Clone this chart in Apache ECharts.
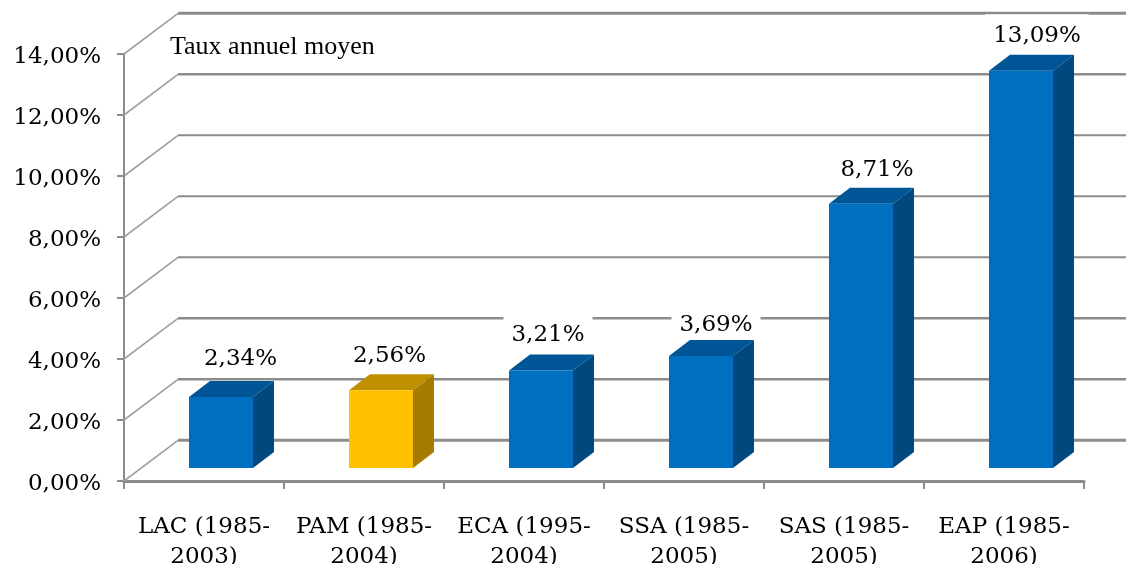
<!DOCTYPE html>
<html>
<head>
<meta charset="utf-8">
<title>Taux annuel moyen</title>
<script src="https://cdn.jsdelivr.net/npm/echarts@6/dist/echarts.min.js"></script>
<style>
  html, body { margin: 0; padding: 0; background: #fff; overflow: hidden; }
  #chart { width: 1126px; height: 564px; }
</style>
</head>
<body>
<div id="chart"></div>
<script>
const categories = ['LAC (1985-\n2003)', 'PAM (1985-\n2004)', 'ECA (1995-\n2004)', 'SSA (1985-\n2005)', 'SAS (1985-\n2005)', 'EAP (1985-\n2006)'];
const values = [2.34, 2.56, 3.21, 3.69, 8.71, 13.09];
const valueLabels = ['2,34%', '2,56%', '3,21%', '3,69%', '8,71%', '13,09%'];
const yTicks = [0, 2, 4, 6, 8, 10, 12, 14];
const highlightIndex = 1;

// fausse 3D : decalage du mur du fond et du bloc
const wallDx = 54, wallDy = -40.7;
const barFrontDx = 17, barFrontDy = -13;
const barDepthDx = 21, barDepthDy = -16;
const barWidth = 64;
const barScale = 0.995;

// etiquettes placees a la main dans l'original
const labelNudgeX = [36.5, 25.5, 24, 32, 33, 33];
const labelNudgeY = [-40, -36, -37.5, -33, -35.5, -36.5];

const serifFont = 'DejaVu Serif';
const gridColor = '#8c8c8c';

const chart = echarts.init(document.getElementById('chart'));

function wallLineWidth (v) {
  if (v === 14 || v === 0) return 3;
  if (v === 12 || v === 4 || v === 2) return 2.5;
  return 2;
}

function renderWall (params, api) {
  const v = api.value(0);
  const a = api.coord([0, v]);
  const left = params.coordSys.x;
  const right = left + params.coordSys.width;
  const y = a[1];
  return {
    type: 'group',
    children: [
      { type: 'line', shape: { x1: left, y1: y, x2: left + wallDx, y2: y + wallDy }, style: { stroke: '#a0a0a0', lineWidth: 1.6 } },
      { type: 'line', shape: { x1: left + wallDx, y1: y + wallDy, x2: right + wallDx, y2: y + wallDy }, style: { stroke: gridColor, lineWidth: wallLineWidth(v) } }
    ]
  };
}

function barTopY (api, idx, v) {
  const base = api.coord([idx, 0])[1];
  const top = api.coord([idx, v])[1];
  return base - (base - top) * barScale + barFrontDy;
}

function renderBar (params, api) {
  const idx = api.value(0);
  const top = api.coord([idx, api.value(1)]);
  const base = api.coord([idx, 0]);
  const x0 = top[0] + barFrontDx - barWidth / 2;
  const x1 = x0 + barWidth;
  const yTop = barTopY(api, idx, api.value(1));
  const yBase = base[1] + barFrontDy;
  const high = idx === highlightIndex;
  const front = high ? '#ffc000' : '#006fc0';
  const topFace = high ? '#bf9000' : '#005596';
  const sideFace = high ? '#a67c00' : '#00487e';
  return {
    type: 'group',
    children: [
      { type: 'polygon', shape: { points: [[x0, yTop], [x1, yTop], [x1 + barDepthDx, yTop + barDepthDy], [x0 + barDepthDx, yTop + barDepthDy]] }, style: { fill: topFace } },
      { type: 'polygon', shape: { points: [[x1, yTop], [x1 + barDepthDx, yTop + barDepthDy], [x1 + barDepthDx, yBase + barDepthDy], [x1, yBase]] }, style: { fill: sideFace } },
      { type: 'rect', shape: { x: x0, y: yTop, width: barWidth, height: yBase - yTop }, style: { fill: front } }
    ]
  };
}

// fond blanc qui coupe les lignes du mur, mais passe sous les barres
function renderLabel (params, api) {
  const idx = api.value(0);
  const top = api.coord([idx, api.value(1)]);
  return {
    type: 'text',
    style: {
      x: top[0] + labelNudgeX[idx],
      y: barTopY(api, idx, api.value(1)) + labelNudgeY[idx] - 20,
      text: valueLabels[idx],
      align: 'center',
      verticalAlign: 'top',
      fontFamily: serifFont,
      fontSize: 23,
      lineHeight: 36,
      fill: '#000',
      backgroundColor: '#fff',
      padding: [4, 8, 0, 8]
    }
  };
}

chart.setOption({
  animation: false,
  backgroundColor: '#ffffff',
  grid: { left: 124, top: 54, width: 960, height: 427, outerBoundsMode: 'none' },
  xAxis: {
    type: 'category',
    data: categories,
    boundaryGap: true,
    axisLine: { lineStyle: { color: gridColor, width: 3 } },
    axisTick: { show: true, alignWithLabel: false, length: 8, lineStyle: { color: gridColor, width: 2 } },
    axisLabel: { color: '#000', fontFamily: serifFont, fontSize: 23, lineHeight: 30, margin: 31, interval: 0 }
  },
  yAxis: {
    type: 'value',
    min: 0,
    max: 14,
    interval: 2,
    axisLine: { show: true, lineStyle: { color: gridColor, width: 2 } },
    axisTick: { show: true, length: 7, lineStyle: { color: gridColor, width: 2 } },
    splitLine: { show: false },
    axisLabel: {
      color: '#000',
      fontFamily: serifFont,
      fontSize: 23,
      margin: 23,
      // texte un peu sous le tick, comme dans l'original
      verticalAlign: 'top',
      lineHeight: 6,
      formatter: v => v.toFixed(2).replace('.', ',') + '%'
    }
  },
  graphic: [
    { type: 'text', left: 170, top: 34, z: 10, style: { text: 'Taux annuel moyen', font: '26px "Liberation Serif"', fill: '#000' } }
  ],
  series: [
    {
      type: 'custom',
      coordinateSystem: 'cartesian2d',
      renderItem: renderWall,
      encode: { y: 0 },
      clip: false,
      z: 1,
      data: yTicks.map(v => [v])
    },
    {
      type: 'custom',
      coordinateSystem: 'cartesian2d',
      renderItem: renderLabel,
      encode: { x: 0, y: 1 },
      clip: false,
      z: 2,
      data: values.map((v, i) => [i, v])
    },
    {
      type: 'custom',
      coordinateSystem: 'cartesian2d',
      renderItem: renderBar,
      encode: { x: 0, y: 1 },
      clip: false,
      z: 3,
      data: values.map((v, i) => [i, v])
    }
  ]
});
</script>
</body>
</html>
